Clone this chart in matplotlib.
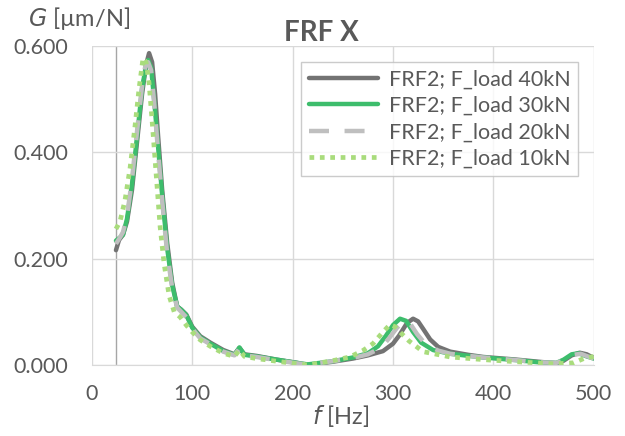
import matplotlib.pyplot as plt

plt.rcParams['font.family'] = ['Lato', 'DejaVu Sans']

# frequency [Hz] / compliance G [um/N]
f_40 = [24, 27, 31, 35, 40, 45, 50, 54, 57, 60, 63, 66, 70, 75, 80, 85, 89, 94, 100, 108, 118, 131, 142,
        147, 152, 164, 184, 204, 215, 240, 260, 275, 290, 300, 306, 314, 320, 325, 330, 337, 345, 357, 375,
        390, 410, 423, 445, 463, 470, 478, 486, 493, 500]
g_40 = [0.216, 0.235, 0.245, 0.27, 0.33, 0.42, 0.51, 0.565, 0.587, 0.57, 0.51, 0.43, 0.33, 0.23, 0.155,
        0.11, 0.104, 0.095, 0.072, 0.054, 0.042, 0.028, 0.02, 0.032, 0.02, 0.017, 0.01, 0.004, 0.0, 0.006,
        0.012, 0.018, 0.026, 0.04, 0.055, 0.079, 0.087, 0.082, 0.068, 0.048, 0.034, 0.025, 0.019, 0.015,
        0.012, 0.01, 0.006, 0.003, 0.008, 0.018, 0.023, 0.02, 0.013]

f_30 = [24, 28, 31, 35, 40, 45, 50, 54, 56, 59, 62, 66, 70, 75, 80, 85, 89, 94, 100, 108, 118, 131, 142,
        147, 152, 164, 184, 204, 215, 240, 260, 275, 285, 293, 300, 307, 313, 320, 328, 340, 357, 390, 423,
        445, 463, 470, 478, 485, 493, 500]
g_30 = [0.234, 0.24, 0.245, 0.275, 0.34, 0.43, 0.52, 0.565, 0.574, 0.56, 0.5, 0.41, 0.32, 0.22, 0.15,
        0.11, 0.104, 0.094, 0.07, 0.052, 0.04, 0.026, 0.019, 0.033, 0.019, 0.016, 0.01, 0.004, 0.001, 0.007,
        0.014, 0.022, 0.035, 0.055, 0.075, 0.087, 0.083, 0.062, 0.042, 0.028, 0.021, 0.014, 0.009, 0.005,
        0.004, 0.01, 0.02, 0.022, 0.016, 0.012]

f_20 = [24, 28, 31, 35, 40, 45, 50, 53, 56, 59, 62, 66, 70, 75, 80, 85, 89, 94, 100, 108, 118, 131, 142,
        147, 152, 164, 184, 204, 215, 240, 260, 275, 288, 296, 304, 311, 317, 324, 332, 345, 357, 390, 423,
        445, 463, 472, 480, 487, 494, 500]
g_20 = [0.228, 0.24, 0.25, 0.28, 0.35, 0.44, 0.525, 0.56, 0.57, 0.555, 0.495, 0.4, 0.31, 0.21, 0.145,
        0.108, 0.1, 0.09, 0.068, 0.05, 0.039, 0.025, 0.018, 0.031, 0.018, 0.015, 0.009, 0.003, 0.001, 0.007,
        0.013, 0.02, 0.032, 0.05, 0.07, 0.083, 0.078, 0.058, 0.04, 0.027, 0.021, 0.014, 0.009, 0.005,
        0.004, 0.01, 0.019, 0.021, 0.016, 0.012]

f_10 = [24, 28, 33, 38, 43, 47, 51, 54, 57, 60, 64, 68, 72, 77, 82, 88, 94, 100, 108, 118, 131, 142, 147,
        152, 164, 184, 204, 215, 240, 257, 270, 280, 290, 297, 302, 308, 316, 330, 357, 390, 423, 460, 480,
        490, 500]
g_10 = [0.256, 0.27, 0.31, 0.37, 0.45, 0.52, 0.578, 0.57, 0.53, 0.46, 0.36, 0.26, 0.19, 0.13, 0.1, 0.09,
        0.075, 0.062, 0.047, 0.035, 0.022, 0.016, 0.028, 0.016, 0.012, 0.007, 0.002, 0.0, 0.008, 0.015,
        0.027, 0.04, 0.062, 0.076, 0.072, 0.06, 0.045, 0.025, 0.015, 0.01, 0.006, 0.002, 0.004, 0.012, 0.016]

labels = ['FRF2; F_load 40kN', 'FRF2; F_load 30kN', 'FRF2; F_load 20kN', 'FRF2; F_load 10kN']
x_ticks = [0, 100, 200, 300, 400, 500]
y_ticks = [0.0, 0.2, 0.4, 0.6]

txt = '#595959'
fig = plt.figure(figsize=(6.25, 4.36), dpi=100)
ax = fig.add_axes([0.147, 0.163, 0.803, 0.731])

ax.plot(f_40, g_40, color='#737373', lw=3.2, label=labels[0], solid_capstyle='round')
ax.plot(f_30, g_30, color='#3dbd6c', lw=3.2, label=labels[1], solid_capstyle='round')
ax.plot(f_20, g_20, color='#bfbfbf', lw=3.2, dashes=(4.5, 3.5), label=labels[2])
ax.plot(f_10, g_10, color='#a9dc7c', lw=3.4, dashes=(1, 1.2), label=labels[3])

ax.set_xlim(0, 500)
ax.set_ylim(0, 0.6)
ax.set_xticks(x_ticks)
ax.set_yticks(y_ticks)
ax.set_yticklabels(['%.3f' % v for v in y_ticks])
ax.grid(True, color='#d9d9d9', lw=1)
ax.set_axisbelow(True)
ax.axvline(24, color='#a6a6a6', lw=1, zorder=0.5)
for s in ['top', 'right', 'left']:
    ax.spines[s].set_visible(False)
ax.spines['bottom'].set_color('#d9d9d9')
ax.tick_params(length=0, labelsize=15.5, colors=txt)
ax.tick_params(axis='y', pad=17)
ax.tick_params(axis='x', pad=14)

fig.text(0.515, 0.925, 'FRF X', fontsize=20, fontweight='bold', color=txt, ha='center', va='center')
fig.text(0.045, 0.958, r'$\mathbf{\it{G}}$ [µm/N]', fontsize=17, color=txt, ha='left', va='center')
fig.text(0.545, 0.045, r'$\it{f}$ [Hz]', fontsize=17, color=txt, ha='center', va='center')

leg = ax.legend(loc='upper right', bbox_to_anchor=(0.99, 0.985), fontsize=15.5, frameon=True,
                fancybox=False, edgecolor='#bfbfbf', handlelength=3.2, handletextpad=0.5,
                borderpad=0.35, labelspacing=0.3, labelcolor=txt)
leg.get_frame().set_linewidth(1)

fig.savefig('out.png', dpi=100)
